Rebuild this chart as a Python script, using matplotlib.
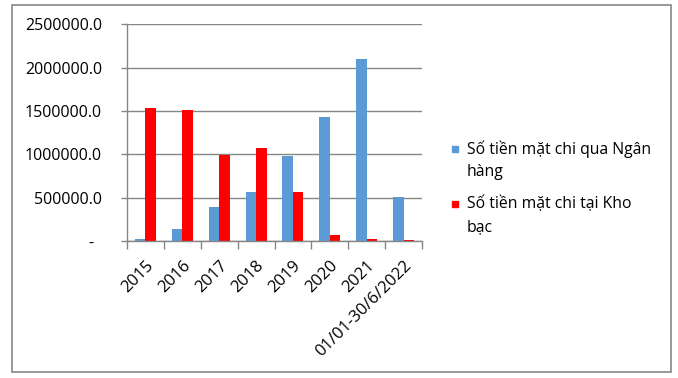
import matplotlib
matplotlib.use('Agg')
import matplotlib.pyplot as plt
from matplotlib.patches import Rectangle
import numpy as np

# Data
categories = ['2015', '2016', '2017', '2018', '2019', '2020', '2021', '01/01-30/6/2022']
bank = [23000, 138000, 392000, 565000, 984000, 1431000, 2100000, 504000]
treasury = [1534000, 1511000, 992000, 1077000, 565000, 69000, 23000, 15000]
series_names = ['Số tiền mặt chi qua Ngân\nhàng', 'Số tiền mặt chi tại Kho\nbạc']
yticks = [0, 500000, 1000000, 1500000, 2000000, 2500000]
ytick_labels = ['-  ', '500000.0', '1000000.0', '1500000.0', '2000000.0', '2500000.0']

blue = '#5B9BD5'
red = '#FF0000'
grey = '#868686'

plt.rcParams['font.family'] = ['Open Sans', 'DejaVu Sans']

fig = plt.figure(figsize=(6.78, 3.78), dpi=100)
ax = fig.add_axes([127/678, 1 - 241/378, 295/678, (241 - 24.3)/378])

x = np.arange(len(categories))
w = 0.285
ax.bar(x - w/2, bank, w, color=blue)
ax.bar(x + w/2, treasury, w, color=red)

ax.set_xlim(-0.5, len(categories) - 0.5)
ax.set_ylim(0, 2500000)
ax.set_yticks(yticks)
ax.set_yticklabels(ytick_labels, fontsize=11.5)
ax.yaxis.grid(True, color=grey, linewidth=1)
ax.set_axisbelow(True)

ax.set_xticks(x)
ax.set_xticklabels(categories, fontsize=12, rotation=45, ha='right', va='top',
                   rotation_mode='anchor')
ax.tick_params(axis='x', which='major', length=0, pad=12)
ax.set_xticks(np.arange(len(categories) + 1) - 0.5, minor=True)
ax.tick_params(axis='x', which='minor', length=6, color=grey, width=1)
ax.tick_params(axis='y', length=4, color=grey, width=1, pad=14)

for s in ['top', 'right']:
    ax.spines[s].set_visible(False)
for s in ['left', 'bottom']:
    ax.spines[s].set_color(grey)
    ax.spines[s].set_linewidth(1)

# legend drawn by hand so the marker sits on the first line
leg_colors = [blue, red]
leg_y = [149, 204]
for name, c, yy in zip(series_names, leg_colors, leg_y):
    fig.patches.append(Rectangle((452/678, 1 - (yy + 3)/378), 6/678, 6/378,
                                 transform=fig.transFigure, color=c))
    for k, line in enumerate(name.split('\n')):
        fig.text(467/678, 1 - (yy + 23*k)/378, line, fontsize=11.3,
                 va='center', ha='left')

# chart border
fig.patches.append(Rectangle((11.5/678, 1 - 372/378), (671 - 11.5)/678, (372 - 4.5)/378,
                             transform=fig.transFigure, fill=False,
                             edgecolor=grey, linewidth=1.2))

fig.savefig('out.png', dpi=100)
